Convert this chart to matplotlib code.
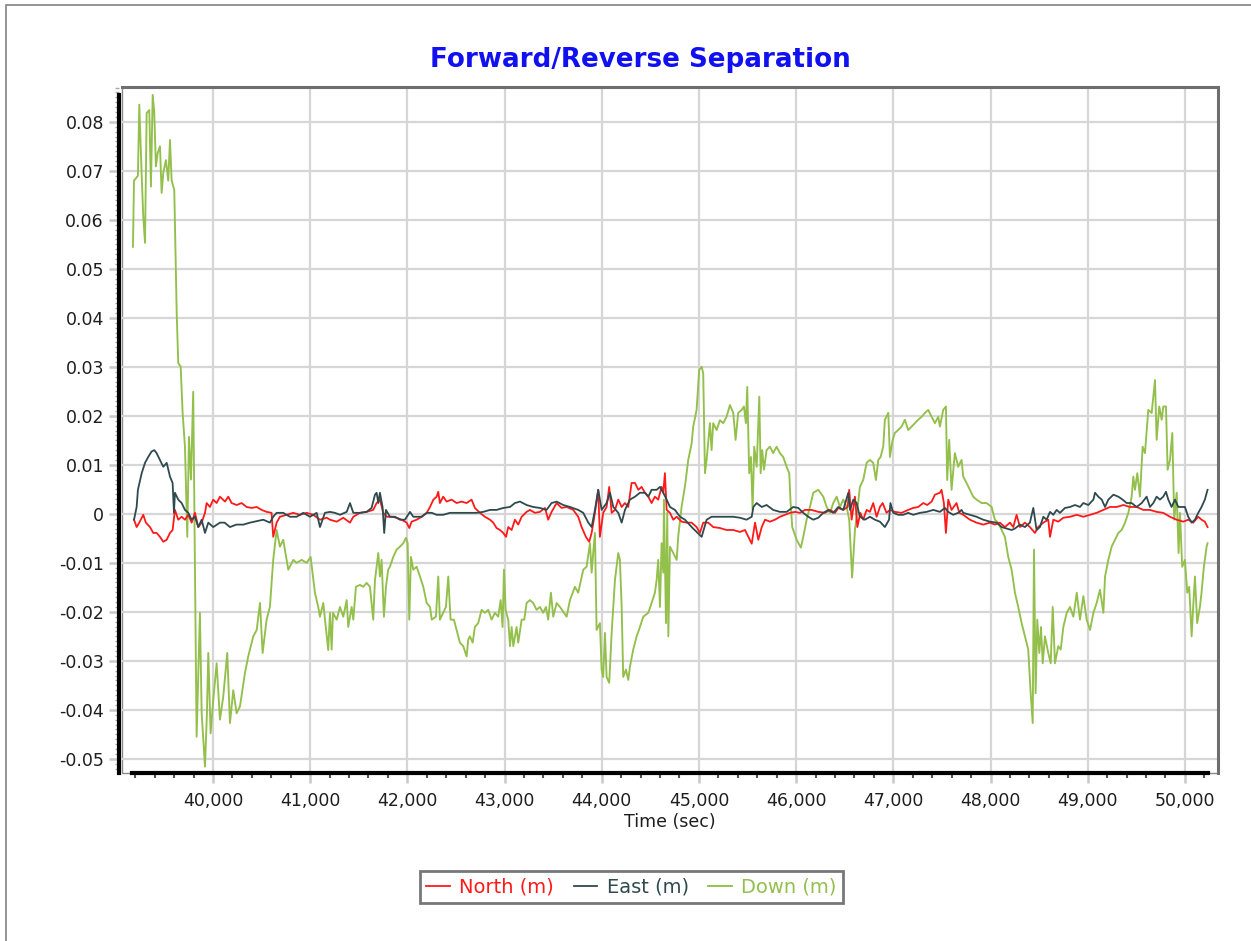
import matplotlib
matplotlib.use("Agg")
import matplotlib.pyplot as plt
from matplotlib.patches import Rectangle
from matplotlib.ticker import MultipleLocator, FuncFormatter
import numpy as np

# ---- Forward/reverse separation samples (time in seconds, separation in metres) ----
down_t = [39177, 39188, 39228, 39242, 39267, 39283, 39301, 39318, 39345, 39362, 39380, 39396,
          39413, 39431, 39455, 39472, 39489, 39516, 39540, 39558, 39575, 39602, 39627, 39643,
          39668, 39688, 39712, 39736, 39753, 39774, 39797, 39812, 39832, 39866, 39884, 39918,
          39938, 39952, 39976, 40003, 40038, 40072, 40106, 40147, 40175, 40209, 40244, 40278,
          40329, 40363, 40415, 40450, 40484, 40511, 40552, 40586, 40620, 40655, 40689, 40723,
          40775, 40826, 40861, 40913, 40964, 41005, 41049, 41083, 41101, 41135, 41186, 41204,
          41221, 41235, 41273, 41307, 41341, 41376, 41392, 41427, 41444, 41471, 41512, 41546,
          41581, 41615, 41649, 41667, 41701, 41718, 41735, 41759, 41780, 41803, 41821, 41855,
          41890, 41924, 41958, 41986, 42003, 42020, 42037, 42061, 42096, 42130, 42164, 42199,
          42233, 42251, 42294, 42318, 42335, 42369, 42397, 42421, 42445, 42479, 42507, 42541,
          42575, 42610, 42626, 42644, 42672, 42695, 42729, 42764, 42798, 42832, 42867, 42901,
          42935, 42960, 42980, 42994, 43011, 43038, 43056, 43073, 43090, 43124, 43141, 43176,
          43203, 43227, 43261, 43295, 43330, 43364, 43398, 43426, 43449, 43477, 43501, 43536,
          43570, 43639, 43673, 43724, 43758, 43810, 43844, 43879, 43896, 43912, 43930, 43947,
          43981, 43999, 44015, 44033, 44050, 44077, 44102, 44136, 44170, 44187, 44205, 44221,
          44249, 44273, 44290, 44324, 44359, 44393, 44427, 44479, 44513, 44547, 44565, 44581,
          44599, 44616, 44633, 44640, 44661, 44674, 44685, 44702, 44736, 44771, 44787, 44822,
          44856, 44890, 44925, 44941, 44976, 45003, 45028, 45044, 45062, 45079, 45113, 45130,
          45147, 45182, 45216, 45250, 45284, 45319, 45353, 45377, 45404, 45439, 45463, 45483,
          45497, 45517, 45535, 45552, 45569, 45594, 45621, 45635, 45651, 45669, 45696, 45730,
          45764, 45799, 45833, 45867, 45902, 45929, 45943, 45960, 46005, 46049, 46073, 46108,
          46142, 46176, 46228, 46279, 46314, 46348, 46382, 46417, 46451, 46485, 46520, 46546,
          46576, 46605, 46622, 46656, 46690, 46725, 46759, 46793, 46821, 46845, 46869, 46896,
          46913, 46948, 46965, 46993, 47016, 47050, 47085, 47119, 47153, 47188, 47222, 47256,
          47291, 47325, 47359, 47394, 47428, 47462, 47479, 47513, 47541, 47554, 47575, 47599,
          47633, 47667, 47702, 47719, 47753, 47788, 47822, 47856, 47908, 47959, 48011, 48045,
          48079, 48114, 48148, 48182, 48217, 48251, 48285, 48320, 48354, 48388, 48413, 48434,
          48447, 48464, 48481, 48502, 48519, 48537, 48560, 48594, 48619, 48640, 48663, 48697,
          48722, 48749, 48784, 48818, 48852, 48887, 48920, 48955, 48989, 49024, 49058, 49092,
          49126, 49161, 49178, 49212, 49246, 49281, 49315, 49349, 49384, 49418, 49452, 49469,
          49486, 49510, 49537, 49565, 49589, 49623, 49658, 49692, 49709, 49736, 49761, 49777,
          49805, 49822, 49846, 49870, 49890, 49915, 49935, 49949, 49972, 50000, 50024, 50044,
          50069, 50085, 50103, 50126, 50154, 50171, 50195, 50223, 50233]
down_m = [0.0545, 0.068, 0.069, 0.0835, 0.069, 0.0607, 0.0553, 0.0818, 0.0824, 0.0668, 0.0855, 0.082,
          0.0709, 0.0736, 0.075, 0.0655, 0.0696, 0.0722, 0.068, 0.0763, 0.068, 0.0661, 0.041, 0.0308,
          0.030, 0.0206, 0.0137, -0.0047, 0.0157, 0.007, 0.0249, -0.005, -0.0455, -0.0202, -0.0407, -0.0516,
          -0.0407, -0.0284, -0.0448, -0.038, -0.0305, -0.042, -0.0373, -0.0284, -0.0427, -0.036, -0.0407, -0.0393,
          -0.0325, -0.0291, -0.025, -0.0237, -0.0182, -0.0284, -0.0216, -0.019, -0.0094, -0.0033, -0.0067, -0.0053,
          -0.0114, -0.0094, -0.010, -0.0094, -0.010, -0.0088, -0.0161, -0.019, -0.021, -0.0182, -0.0278, -0.0202,
          -0.0277, -0.0202, -0.0216, -0.019, -0.021, -0.0176, -0.0231, -0.019, -0.0216, -0.0149, -0.0145, -0.0149,
          -0.0141, -0.0149, -0.0216, -0.0135, -0.008, -0.0128, -0.0094, -0.021, -0.0149, -0.0114, -0.0108, -0.0088,
          -0.0073, -0.0067, -0.006, -0.0049, -0.006, -0.0216, -0.0088, -0.0114, -0.0108, -0.0128, -0.0149, -0.0182,
          -0.019, -0.0216, -0.021, -0.0128, -0.0216, -0.0202, -0.019, -0.0128, -0.0216, -0.0216, -0.0237, -0.0263,
          -0.027, -0.0291, -0.0257, -0.025, -0.0263, -0.0231, -0.0223, -0.0196, -0.0202, -0.0196, -0.0216, -0.0202,
          -0.021, -0.0176, -0.0231, -0.0114, -0.0196, -0.0216, -0.027, -0.0231, -0.027, -0.0231, -0.0263, -0.0216,
          -0.0216, -0.0182, -0.0176, -0.0182, -0.0196, -0.019, -0.0202, -0.019, -0.0216, -0.0161, -0.021, -0.0182,
          -0.019, -0.021, -0.0176, -0.0149, -0.0161, -0.0114, -0.0108, -0.006, -0.012, -0.008, -0.0039, -0.0237,
          -0.0223, -0.0318, -0.0333, -0.0243, -0.0333, -0.0345, -0.0243, -0.0135, -0.008, -0.0094, -0.019, -0.0333,
          -0.0318, -0.0339, -0.0312, -0.0277, -0.025, -0.0231, -0.021, -0.0202, -0.0182, -0.0161, -0.0135, -0.0094,
          -0.019, -0.006, -0.012, 0.0029, -0.0223, 0.0002, -0.025, -0.0067, -0.008, -0.0094, -0.0046, 0.0015,
          0.0056, 0.011, 0.0144, 0.0178, 0.0212, 0.0294, 0.030, 0.0287, 0.0083, 0.011, 0.0185, 0.013,
          0.0185, 0.0171, 0.0191, 0.0185, 0.0198, 0.0222, 0.0206, 0.0151, 0.0206, 0.0212, 0.0219, 0.0185,
          0.0259, 0.0083, 0.0116, 0.0008, 0.0137, 0.0096, 0.0239, 0.0083, 0.013, 0.009, 0.013, 0.0137,
          0.0124, 0.0137, 0.0124, 0.0116, 0.0096, 0.0083, 0.0022, -0.0027, -0.0053, -0.0069, -0.0047, -0.0012,
          0.0014, 0.0043, 0.0049, 0.0035, 0.0014, 0.0002, 0.0022, 0.0035, 0.0014, 0.0029, 0.0014, -0.0012,
          -0.013, -0.0033, -0.0006, 0.0055, 0.0069, 0.0104, 0.011, 0.0104, 0.0069, 0.011, 0.0116, 0.0137,
          0.0192, 0.0206, 0.0116, 0.0151, 0.0165, 0.0171, 0.0178, 0.0192, 0.0171, 0.0178, 0.0185, 0.0192,
          0.0198, 0.0206, 0.0212, 0.0198, 0.0185, 0.0198, 0.0178, 0.0212, 0.0219, 0.0069, 0.0151, 0.0049,
          0.0124, 0.0096, 0.011, 0.0076, 0.0063, 0.0049, 0.0035, 0.0029, 0.0022, 0.0022, 0.0014, -0.0012,
          -0.0018, -0.0033, -0.0047, -0.0088, -0.0114, -0.0161, -0.019, -0.0223, -0.025, -0.0277, -0.0366, -0.0427,
          -0.0073, -0.0366, -0.0216, -0.0284, -0.0231, -0.0305, -0.025, -0.0284, -0.0305, -0.019, -0.0305, -0.027,
          -0.0277, -0.0231, -0.0202, -0.019, -0.021, -0.0161, -0.0216, -0.0168, -0.0216, -0.0237, -0.0202, -0.0182,
          -0.0155, -0.0202, -0.0128, -0.0094, -0.0067, -0.0053, -0.0039, -0.0033, -0.0018, 0.0002, 0.0035, 0.0076,
          0.0049, 0.0083, 0.0035, 0.0137, 0.0124, 0.0212, 0.0206, 0.0273, 0.0151, 0.0219, 0.0192, 0.0219,
          0.0219, 0.009, 0.011, 0.0165, -0.0012, 0.0043, -0.008, 0.0002, -0.0108, -0.0094, -0.0161, -0.0149,
          -0.025, -0.019, -0.0128, -0.0223, -0.019, -0.0161, -0.0108, -0.0067, -0.006]

east_t = [39188, 39215, 39228, 39267, 39301, 39334, 39368, 39396, 39420, 39455, 39489, 39524,
          39558, 39585, 39599, 39609, 39643, 39678, 39712, 39746, 39781, 39815, 39849, 39884,
          39918, 39952, 40003, 40072, 40120, 40175, 40240, 40312, 40381, 40450, 40518, 40586,
          40620, 40655, 40723, 40792, 40861, 40929, 40998, 41067, 41101, 41152, 41204, 41255,
          41307, 41376, 41410, 41444, 41512, 41581, 41632, 41667, 41684, 41701, 41718, 41745,
          41762, 41780, 41821, 41872, 41924, 41975, 42027, 42061, 42096, 42147, 42199, 42251,
          42302, 42369, 42438, 42507, 42575, 42644, 42712, 42781, 42850, 42918, 42987, 43056,
          43107, 43159, 43227, 43295, 43364, 43432, 43484, 43536, 43604, 43673, 43758, 43810,
          43862, 43896, 43930, 43964, 43999, 44050, 44085, 44119, 44170, 44205, 44239, 44290,
          44342, 44393, 44445, 44479, 44513, 44565, 44599, 44633, 44668, 44702, 44753, 44805,
          44856, 44925, 44976, 45028, 45079, 45130, 45199, 45284, 45353, 45422, 45490, 45543,
          45560, 45594, 45646, 45696, 45764, 45833, 45902, 45971, 46022, 46073, 46125, 46176,
          46228, 46279, 46331, 46382, 46434, 46485, 46537, 46554, 46588, 46622, 46656, 46708,
          46759, 46810, 46862, 46913, 46956, 46970, 46999, 47050, 47102, 47153, 47205, 47274,
          47342, 47411, 47479, 47531, 47565, 47616, 47667, 47702, 47719, 47788, 47856, 47925,
          47994, 48062, 48114, 48165, 48217, 48251, 48303, 48354, 48405, 48440, 48474, 48508,
          48543, 48577, 48612, 48646, 48680, 48714, 48766, 48818, 48869, 48920, 48955, 49006,
          49058, 49075, 49109, 49144, 49178, 49212, 49264, 49315, 49359, 49400, 49452, 49503,
          49555, 49606, 49640, 49675, 49709, 49743, 49777, 49805, 49829, 49863, 49897, 49932,
          49966, 50000, 50034, 50069, 50103, 50137, 50171, 50205, 50233]
east_m = [-0.0012, 0.0014, 0.0049, 0.0083, 0.0104, 0.0116, 0.0127, 0.013, 0.0124, 0.011, 0.0096, 0.0104,
          0.0076, 0.0063, 0.0002, 0.0043, 0.0029, 0.0022, 0.0008, 0.0002, -0.0012, -0.0006, -0.0027, -0.0012,
          -0.0039, -0.0018, -0.0027, -0.0018, -0.0018, -0.0027, -0.0022, -0.0022, -0.0018, -0.0015, -0.0012, -0.0018,
          -0.0006, 0.0002, 0.0002, -0.0006, -0.0006, 0.0002, -0.0006, 0.0002, -0.0027, 0.0002, 0.0004, 0.0002,
          -0.0002, 0.0004, 0.0022, 0.0002, 0.0002, 0.0004, 0.0012, 0.0039, 0.0043, 0.0022, 0.0043, 0.0014,
          -0.0039, 0.0008, -0.0006, -0.0006, -0.0012, -0.0012, 0.0004, -0.0006, -0.0006, -0.0006, 0.0002, 0.0002,
          -0.0002, -0.0002, 0.0002, 0.0002, 0.0002, 0.0002, 0.0002, 0.0004, 0.0008, 0.0008, 0.0012, 0.0014,
          0.0022, 0.0025, 0.0018, 0.0014, 0.0012, 0.0008, 0.0022, 0.0025, 0.0018, 0.0014, 0.0008, 0.0002,
          -0.0018, -0.0027, 0.0008, 0.0049, 0.0008, 0.0022, 0.0043, 0.0014, 0.0002, -0.0018, 0.0008, 0.0029,
          0.0035, 0.0043, 0.0043, 0.0035, 0.0049, 0.0049, 0.0055, 0.0043, 0.0029, 0.0014, 0.0008, -0.0006,
          -0.0012, -0.0027, -0.0037, -0.0047, -0.0012, -0.0006, -0.0006, -0.0006, -0.0006, -0.0008, -0.0012, -0.0006,
          0.0014, 0.0022, 0.0014, 0.0018, 0.0008, 0.0004, 0.0004, 0.0014, 0.0012, 0.0002, -0.0006, -0.0012,
          -0.0008, 0.0002, 0.0008, 0.0002, 0.0014, 0.0008, 0.0043, 0.0008, 0.0029, 0.0022, -0.0006, -0.0012,
          -0.0006, -0.0012, -0.0016, -0.0027, -0.0012, 0.0022, 0.0002, -0.0002, -0.0002, 0.0002, -0.0002, 0.0002,
          0.0004, 0.0008, 0.0004, 0.0012, 0.0004, -0.0002, 0.0002, 0.0008, 0.0002, -0.0002, -0.0006, -0.0012,
          -0.0016, -0.0018, -0.0027, -0.003, -0.0033, -0.003, -0.0022, -0.0027, -0.0018, 0.0012, -0.0033, -0.0027,
          -0.0006, -0.0012, 0.0004, -0.0002, 0.0008, 0.0002, 0.0012, 0.0014, 0.0018, 0.0014, 0.0022, 0.0018,
          0.0029, 0.0043, 0.0035, 0.0029, 0.0014, 0.0029, 0.0039, 0.0035, 0.0029, 0.0022, 0.0022, 0.0014,
          0.0022, 0.0035, 0.0014, 0.0022, 0.0035, 0.0029, 0.0035, 0.0045, 0.0029, 0.0014, 0.0029, 0.0014,
          0.0014, 0.0014, -0.0006, -0.0018, -0.0012, 0.0002, 0.0014, 0.0029, 0.0049]

north_t = [39188, 39215, 39242, 39283, 39310, 39352, 39386, 39420, 39455, 39489, 39524, 39558,
           39585, 39609, 39643, 39678, 39712, 39746, 39781, 39815, 39849, 39884, 39918, 39935,
           39969, 40003, 40038, 40072, 40124, 40158, 40192, 40244, 40295, 40346, 40398, 40450,
           40501, 40552, 40603, 40620, 40655, 40689, 40758, 40826, 40895, 40964, 41032, 41101,
           41170, 41204, 41273, 41341, 41410, 41444, 41512, 41581, 41649, 41684, 41718, 41752,
           41787, 41838, 41890, 41941, 41993, 42020, 42044, 42096, 42147, 42199, 42233, 42268,
           42302, 42318, 42335, 42369, 42404, 42455, 42507, 42558, 42610, 42661, 42695, 42747,
           42798, 42850, 42884, 42918, 42953, 42987, 43015, 43038, 43073, 43107, 43141, 43176,
           43227, 43261, 43313, 43364, 43416, 43449, 43484, 43536, 43587, 43639, 43707, 43758,
           43793, 43837, 43871, 43896, 43930, 43964, 43981, 44015, 44050, 44077, 44102, 44136,
           44170, 44205, 44239, 44273, 44307, 44342, 44376, 44410, 44445, 44479, 44513, 44547,
           44581, 44616, 44633, 44650, 44668, 44702, 44736, 44771, 44822, 44873, 44925, 44976,
           45010, 45044, 45096, 45147, 45216, 45284, 45353, 45422, 45474, 45508, 45543, 45577,
           45611, 45646, 45680, 45730, 45782, 45833, 45885, 45937, 45988, 46040, 46090, 46159,
           46228, 46297, 46348, 46400, 46434, 46485, 46530, 46546, 46571, 46605, 46630, 46660,
           46690, 46725, 46759, 46793, 46828, 46862, 46890, 46930, 46965, 47016, 47085, 47153,
           47205, 47256, 47308, 47349, 47394, 47428, 47479, 47496, 47520, 47541, 47565, 47599,
           47650, 47679, 47719, 47788, 47856, 47925, 47994, 48045, 48096, 48148, 48200, 48234,
           48268, 48303, 48354, 48405, 48457, 48490, 48543, 48594, 48612, 48646, 48697, 48749,
           48818, 48887, 48955, 49024, 49092, 49161, 49229, 49298, 49367, 49435, 49503, 49572,
           49640, 49709, 49777, 49846, 49915, 49983, 50034, 50085, 50137, 50171, 50205, 50233]
north_m = [-0.0012, -0.0027, -0.0018, -0.0002, -0.0018, -0.0027, -0.0039, -0.0039, -0.0047, -0.0057, -0.0053, -0.0039,
           -0.0033, 0.0008, -0.0012, -0.0006, -0.0012, -0.0002, -0.0018, 0.0002, -0.0027, -0.0018, 0.0002, 0.0022,
           0.0014, 0.0029, 0.0022, 0.0035, 0.0025, 0.0035, 0.0022, 0.0018, 0.0022, 0.0014, 0.0012, 0.0014,
           0.0008, 0.0004, 0.0002, -0.0047, -0.0018, -0.0006, -0.0002, 0.0002, -0.0002, 0.0002, -0.0002, -0.0012,
           -0.0008, -0.0012, -0.0016, -0.0008, -0.0018, -0.0006, 0.0002, 0.0004, 0.0008, 0.0022, 0.0029, 0.0002,
           -0.0006, -0.0006, -0.0008, -0.0012, -0.0018, -0.0029, -0.0016, -0.0012, -0.0006, 0.0002, 0.0014, 0.0029,
           0.0035, 0.0045, 0.0022, 0.0035, 0.0025, 0.0029, 0.0022, 0.0025, 0.0022, 0.0029, 0.0012, 0.0002,
           -0.0006, -0.0012, -0.0018, -0.0029, -0.0033, -0.0039, -0.0047, -0.0027, -0.0033, -0.0012, -0.0022, -0.0006,
           0.0004, 0.0008, 0.0002, 0.0004, 0.0012, -0.0012, 0.0004, 0.0022, 0.0012, 0.0014, 0.0008, -0.0006,
           -0.0027, -0.0047, -0.0057, -0.0039, 0.0002, 0.0049, -0.0047, 0.0002, 0.0014, 0.0055, 0.0002, 0.0008,
           0.0029, 0.0014, 0.0022, 0.0014, 0.0063, 0.0063, 0.0049, 0.0055, 0.0043, 0.0035, 0.0022, 0.0035,
           0.0029, 0.0055, 0.0043, 0.0083, 0.0008, 0.0002, -0.0012, -0.0006, -0.0016, -0.0018, -0.0018, -0.0027,
           -0.0039, -0.0018, -0.0018, -0.0027, -0.0029, -0.0033, -0.0033, -0.0037, -0.0033, -0.0047, -0.0061, -0.0018,
           -0.0053, -0.0027, -0.0012, -0.0016, -0.0012, -0.0006, -0.0002, 0.0002, 0.0004, 0.0002, 0.0008, 0.0008,
           0.0004, 0.0002, 0.0008, 0.0002, 0.0012, 0.0008, 0.0014, 0.0049, -0.0012, 0.0035, -0.0027, 0.0002,
           -0.0012, 0.0008, 0.0004, 0.0022, -0.0006, 0.0014, 0.0022, 0.0002, 0.0008, 0.0004, 0.0002, 0.0008,
           0.0012, 0.0014, 0.0022, 0.0018, 0.0025, 0.0039, 0.0043, 0.0049, 0.0022, -0.0039, 0.0029, 0.0008,
           0.0022, 0.0002, -0.0002, -0.0012, -0.0018, -0.0022, -0.0018, -0.0022, -0.0018, -0.0027, -0.0018, -0.0027,
           -0.0002, -0.0027, -0.0018, -0.0027, -0.0039, -0.0027, -0.0018, -0.0012, -0.0047, -0.0012, -0.0016, -0.0008,
           -0.0006, -0.0002, -0.0006, -0.0002, 0.0002, 0.0008, 0.0014, 0.0014, 0.0018, 0.0014, 0.0014, 0.0008,
           0.0008, 0.0004, 0.0002, -0.0006, -0.0012, -0.0016, -0.0012, -0.0018, -0.0006, -0.0012, -0.0016, -0.0027]

series_labels = ["North (m)", "East (m)", "Down (m)"]
series_colors = ["#FF1A1A", "#2F4A4F", "#93BF4B"]

title_text = "Forward/Reverse Separation"
x_label = "Time (sec)"
x_ticks = list(range(40000, 50001, 1000))
y_ticks = [-0.05, -0.04, -0.03, -0.02, -0.01, 0.0, 0.01, 0.02, 0.03, 0.04, 0.05, 0.06, 0.07, 0.08]

# ---- figure ----
fig = plt.figure(figsize=(12.51, 9.41), dpi=100)
fig.patch.set_facecolor("white")
ax = fig.add_axes([0.0975, 0.1785, 0.8761, 0.729])

grid_color = "#d6d6d6"
ax.set_axisbelow(True)
ax.grid(True, which="major", color=grid_color, linewidth=1.6)

ax.plot(down_t, down_m, color=series_colors[2], linewidth=1.35, label=series_labels[2], zorder=2)
ax.plot(north_t, north_m, color=series_colors[0], linewidth=1.3, label=series_labels[0], zorder=3)
ax.plot(east_t, east_m, color=series_colors[1], linewidth=1.3, label=series_labels[1], zorder=4)

ax.set_xlim(39064, 50340)
ax.set_ylim(-0.0529, 0.0871)

ax.set_xticks(x_ticks)
ax.set_yticks(y_ticks)
ax.xaxis.set_minor_locator(MultipleLocator(200))
ax.yaxis.set_minor_locator(MultipleLocator(0.001))
ax.xaxis.set_major_formatter(FuncFormatter(lambda v, p: f"{int(round(v)):,}"))
ax.yaxis.set_major_formatter(FuncFormatter(lambda v, p: "0" if abs(v) < 1e-9 else f"{v:.2f}"))

label_color = "#1e1e1e"
ax.tick_params(axis="both", which="major", labelsize=12.5, labelcolor=label_color,
               color="#c8c8c8", width=1.8, length=7, direction="out")
ax.tick_params(axis="x", which="major", pad=7)
ax.tick_params(axis="y", which="major", pad=4)
ax.tick_params(axis="x", which="minor", color="#555555", width=1.5, length=3.5)
ax.tick_params(axis="y", which="minor", color="#a8a8a8", width=1.0, length=3.0)

# thin plot frame, heavier top/right edges, black axis lines over the data extent
for side in ["top", "right"]:
    ax.spines[side].set_color("#6e6e6e")
    ax.spines[side].set_linewidth(2.2)
all_t = down_t + east_t + north_t
all_m = down_m + east_m + north_m
ax.spines["left"].set_color("black")
ax.spines["left"].set_linewidth(3)
ax.spines["left"].set_bounds(-0.0529, max(all_m))
ax.spines["left"].set_position(("outward", 2))
ax.spines["bottom"].set_color("black")
ax.spines["bottom"].set_linewidth(3)
ax.spines["bottom"].set_bounds(min(all_t) - 10, max(all_t))
ax.add_patch(Rectangle((0, 0), 1, 1, transform=ax.transAxes, fill=False,
                       edgecolor="#8a8a8a", linewidth=1.0, zorder=0.5, clip_on=False))

ax.set_xlabel(x_label, fontsize=12.5, color=label_color, labelpad=2)

fig.text(0.5115, 0.936, title_text, ha="center", va="center",
         fontsize=18.8, fontweight="bold", color="#1010F0")

leg = fig.legend(loc="center", bbox_to_anchor=(0.5048, 0.0574), ncol=3,
                 handles=[ax.lines[1], ax.lines[2], ax.lines[0]],
                 labels=series_labels, fontsize=14, labelcolor="linecolor",
                 frameon=True, fancybox=False, handlelength=1.2, handletextpad=0.5,
                 columnspacing=1.0, borderpad=0.35, edgecolor="#555555")
leg.get_frame().set_linewidth(2.0)

# outer chart border
fig.add_artist(Rectangle((6 / 1251, -0.05), 1.2, 1.05 - 5 / 941, transform=fig.transFigure,
                         fill=False, edgecolor="#8c8c8c", linewidth=1.3))

fig.savefig("out.png", dpi=100, facecolor="white")
